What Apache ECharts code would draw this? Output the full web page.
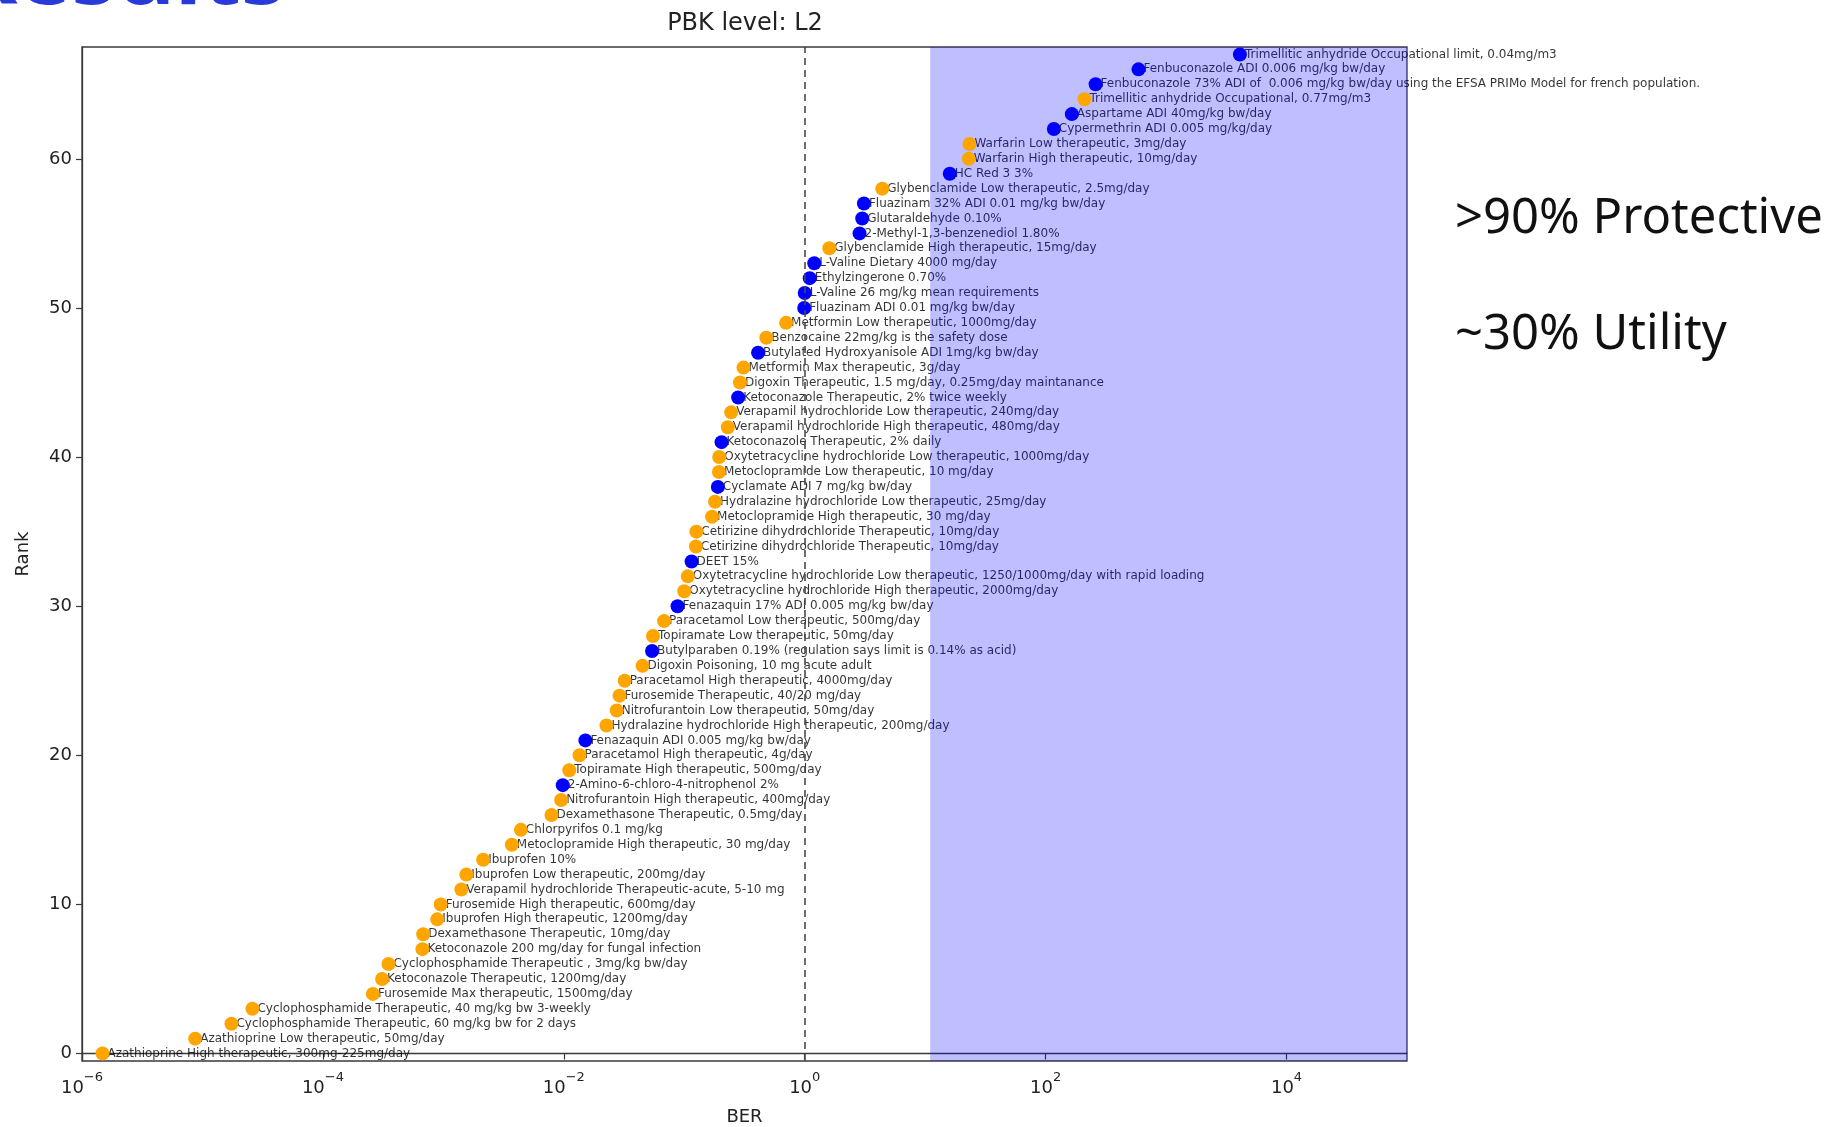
<!DOCTYPE html>
<html>
<head>
<meta charset="utf-8">
<script src="https://cdn.jsdelivr.net/npm/echarts@6/dist/echarts.min.js"></script>
<style>
  html, body { margin: 0; padding: 0; background: #fff; }
  #chart { width: 1828px; height: 1127px; }
</style>
</head>
<body>
<div id="chart"></div>
<script>
// Substances ordered by rank (0 = lowest bioactivity exposure ratio)
const substances = [
  'Azathioprine High therapeutic, 300mg-225mg/day',
  'Azathioprine Low therapeutic, 50mg/day',
  'Cyclophosphamide Therapeutic, 60 mg/kg bw for 2 days',
  'Cyclophosphamide Therapeutic, 40 mg/kg bw 3-weekly',
  'Furosemide Max therapeutic, 1500mg/day',
  'Ketoconazole Therapeutic, 1200mg/day',
  'Cyclophosphamide Therapeutic , 3mg/kg bw/day',
  'Ketoconazole 200 mg/day for fungal infection',
  'Dexamethasone Therapeutic, 10mg/day',
  'Ibuprofen High therapeutic, 1200mg/day',
  'Furosemide High therapeutic, 600mg/day',
  'Verapamil hydrochloride Therapeutic-acute, 5-10 mg',
  'Ibuprofen Low therapeutic, 200mg/day',
  'Ibuprofen 10%',
  'Metoclopramide High therapeutic, 30 mg/day',
  'Chlorpyrifos 0.1 mg/kg',
  'Dexamethasone Therapeutic, 0.5mg/day',
  'Nitrofurantoin High therapeutic, 400mg/day',
  '2-Amino-6-chloro-4-nitrophenol 2%',
  'Topiramate High therapeutic, 500mg/day',
  'Paracetamol High therapeutic, 4g/day',
  'Fenazaquin ADI 0.005 mg/kg bw/day',
  'Hydralazine hydrochloride High therapeutic, 200mg/day',
  'Nitrofurantoin Low therapeutic, 50mg/day',
  'Furosemide Therapeutic, 40/20 mg/day',
  'Paracetamol High therapeutic, 4000mg/day',
  'Digoxin Poisoning, 10 mg acute adult',
  'Butylparaben 0.19% (regulation says limit is 0.14% as acid)',
  'Topiramate Low therapeutic, 50mg/day',
  'Paracetamol Low therapeutic, 500mg/day',
  'Fenazaquin 17% ADI 0.005 mg/kg bw/day',
  'Oxytetracycline hydrochloride High therapeutic, 2000mg/day',
  'Oxytetracycline hydrochloride Low therapeutic, 1250/1000mg/day with rapid loading',
  'DEET 15%',
  'Cetirizine dihydrochloride Therapeutic, 10mg/day',
  'Cetirizine dihydrochloride Therapeutic, 10mg/day',
  'Metoclopramide High therapeutic, 30 mg/day',
  'Hydralazine hydrochloride Low therapeutic, 25mg/day',
  'Cyclamate ADI 7 mg/kg bw/day',
  'Metoclopramide Low therapeutic, 10 mg/day',
  'Oxytetracycline hydrochloride Low therapeutic, 1000mg/day',
  'Ketoconazole Therapeutic, 2% daily',
  'Verapamil hydrochloride High therapeutic, 480mg/day',
  'Verapamil hydrochloride Low therapeutic, 240mg/day',
  'Ketoconazole Therapeutic, 2% twice weekly',
  'Digoxin Therapeutic, 1.5 mg/day, 0.25mg/day maintanance',
  'Metformin Max therapeutic, 3g/day',
  'Butylated Hydroxyanisole ADI 1mg/kg bw/day',
  'Benzocaine 22mg/kg is the safety dose',
  'Metformin Low therapeutic, 1000mg/day',
  'Fluazinam ADI 0.01 mg/kg bw/day',
  'L-Valine 26 mg/kg mean requirements',
  'Ethylzingerone 0.70%',
  'L-Valine Dietary 4000 mg/day',
  'Glybenclamide High therapeutic, 15mg/day',
  '2-Methyl-1,3-benzenediol 1.80%',
  'Glutaraldehyde 0.10%',
  'Fluazinam 32% ADI 0.01 mg/kg bw/day',
  'Glybenclamide Low therapeutic, 2.5mg/day',
  'HC Red 3 3%',
  'Warfarin High therapeutic, 10mg/day',
  'Warfarin Low therapeutic, 3mg/day',
  'Cypermethrin ADI 0.005 mg/kg/day',
  'Aspartame ADI 40mg/kg bw/day',
  'Trimellitic anhydride Occupational, 0.77mg/m3',
  'Fenbuconazole 73% ADI of  0.006 mg/kg bw/day using the EFSA PRIMo Model for french population.',
  'Fenbuconazole ADI 0.006 mg/kg bw/day',
  'Trimellitic anhydride Occupational limit, 0.04mg/m3'
];

// Bioactivity exposure ratio for each substance, same order as above
const berValues = [
  1.48e-6, 8.7e-6, 1.74e-5, 2.6e-5, 2.6e-4, 3.1e-4, 3.5e-4, 6.7e-4, 6.8e-4, 8.9e-4,
  9.5e-4, 1.41e-3, 1.55e-3, 2.14e-3, 3.7e-3, 4.4e-3, 7.9e-3, 9.5e-3, 9.8e-3, 0.0111,
  0.0135, 0.0151, 0.0226, 0.0275, 0.029, 0.032, 0.045, 0.054, 0.055, 0.068,
  0.088, 0.100, 0.107, 0.115, 0.125, 0.126, 0.17, 0.18, 0.19, 0.194,
  0.195, 0.204, 0.23, 0.245, 0.28, 0.29, 0.31, 0.41, 0.48, 0.70,
  0.99, 1.0, 1.1, 1.2, 1.6, 2.85, 3.0, 3.1, 4.4, 16,
  23, 23.3, 117, 165, 210, 260, 590, 4100
];

// Marker group: 'b' = blue marker, 'o' = orange marker
const groups = [
  'o','o','o','o','o','o','o','o','o','o',
  'o','o','o','o','o','o','o','o','b','o',
  'o','b','o','o','o','o','o','b','o','o',
  'b','o','o','b','o','o','o','o','b','o',
  'o','b','o','o','b','o','o','b','o','o',
  'b','b','b','b','o','b','b','b','o','b',
  'o','o','b','b','o','b','b','b'
];

const xTickValues = [1e-6, 1e-4, 1e-2, 1, 1e2, 1e4];
const yTickValues = [0, 10, 20, 30, 40, 50, 60];
const protectiveRange = [11, 1e5];   // shaded BER band
const thresholdBER = 1;              // dashed reference line

const FONT = "'DejaVu Sans', sans-serif";

const labelData = substances.map((name, i) => ({ value: [berValues[i], i], name }));
const pointsOf = g => berValues
  .map((v, i) => ({ v, i }))
  .filter(d => groups[d.i] === g)
  .map(d => [d.v, d.i]);

const chart = echarts.init(document.getElementById('chart'), null, { renderer: 'canvas' });

chart.setOption({
  animation: false,
  backgroundColor: '#ffffff',
  grid: {
    left: 82, top: 47, width: 1325, height: 1014,
    outerBoundsMode: 'none', containLabel: false,
    show: true, borderColor: '#3a3a3a', borderWidth: 1.3, backgroundColor: 'transparent'
  },
  xAxis: {
    type: 'log', logBase: 10, min: 1e-6, max: 1e5,
    name: 'BER', nameLocation: 'middle', nameGap: 47,
    nameTextStyle: { fontSize: 18, color: '#222', fontFamily: FONT },
    axisLine: { show: true, lineStyle: { color: '#3a3a3a', width: 1.3 } },
    axisTick: { show: true, inside: false, length: 6, customValues: xTickValues,
                lineStyle: { color: '#3a3a3a', width: 1.2 } },
    minorTick: { show: false },
    splitLine: { show: false },
    axisLabel: {
      customValues: xTickValues,
      margin: 10,
      formatter: v => {
        const e = Math.round(Math.log10(v));
        return '{b|10}{s|' + (e < 0 ? '\u2212' + (-e) : e) + '}';
      },
      rich: {
        b: { fontSize: 18, fontFamily: FONT, color: '#222', lineHeight: 26, verticalAlign: 'bottom' },
        s: { fontSize: 13, fontFamily: FONT, color: '#222', lineHeight: 14, verticalAlign: 'top' }
      }
    }
  },
  yAxis: {
    type: 'value', min: -0.5, max: 67.5,
    name: 'Rank', nameLocation: 'middle', nameGap: 50, nameRotate: 90,
    nameTextStyle: { fontSize: 18, color: '#222', fontFamily: FONT },
    axisLine: { show: true, lineStyle: { color: '#3a3a3a', width: 1.3 } },
    axisTick: { show: true, inside: false, length: 6, customValues: yTickValues,
                lineStyle: { color: '#3a3a3a', width: 1.2 } },
    splitLine: { show: false },
    axisLabel: { customValues: yTickValues, fontSize: 18, color: '#222', fontFamily: FONT, margin: 10 }
  },
  graphic: [
    { type: 'text', x: 286, y: 23, z: 10,
      style: { text: 'Results', textAlign: 'right', textVerticalAlign: 'bottom',
               fontSize: 90, fontWeight: 'bold', fontFamily: "'Noto Sans', sans-serif", fill: '#2a3ad8' } },
    { type: 'text', x: 745, y: 24, z: 10,
      style: { text: 'PBK level: L2', textAlign: 'center', textVerticalAlign: 'middle',
               fontSize: 24, fontFamily: FONT, fill: '#222' } },
    { type: 'text', x: 1455, y: 219, z: 10,
      style: { text: '>90% Protective', textAlign: 'left', textVerticalAlign: 'middle',
               fontSize: 49, fontFamily: "'Noto Sans', sans-serif", fill: '#111' } },
    { type: 'text', x: 1455, y: 335, z: 10,
      style: { text: '~30% Utility', textAlign: 'left', textVerticalAlign: 'middle',
               fontSize: 49, fontFamily: "'Noto Sans', sans-serif", fill: '#111' } }
  ],
  series: [
    {
      // substance labels (drawn beneath the shaded band)
      type: 'scatter', name: 'labels', z: 2, silent: true,
      symbolSize: 14,
      itemStyle: { color: 'rgba(0,0,0,0)' },
      label: {
        show: true, position: 'right', distance: -2, offset: [0, -3],
        formatter: '{b}', fontSize: 12, fontFamily: FONT, color: '#000'
      },
      labelLayout: { hideOverlap: false },
      data: labelData
    },
    {
      // protective BER band
      type: 'custom', name: 'band', z: 3, silent: true,
      data: [[protectiveRange[0], protectiveRange[1], 0]],
      encode: { x: [0, 1], y: 2 },
      renderItem: (params, api) => {
        const x0 = api.coord([api.value(0), 0])[0];
        const x1 = api.coord([api.value(1), 0])[0];
        const cs = params.coordSys;
        return {
          type: 'rect',
          shape: { x: x0, y: cs.y, width: x1 - x0, height: cs.height },
          style: { fill: 'rgba(0,0,255,0.25)' }
        };
      }
    },
    {
      type: 'scatter', name: 'orange', z: 4, silent: true,
      symbolSize: 14, itemStyle: { color: '#ffa500', opacity: 1 },
      data: pointsOf('o'),
      markLine: {
        silent: true, symbol: 'none', label: { show: false },
        lineStyle: { type: [7, 5], color: '#4a4a4a', width: 1.6 },
        data: [{ xAxis: thresholdBER }]
      }
    },
    {
      type: 'scatter', name: 'blue', z: 4, silent: true,
      symbolSize: 14, itemStyle: { color: '#0000ff', opacity: 1 },
      data: pointsOf('b')
    }
  ]
});
</script>
</body>
</html>
